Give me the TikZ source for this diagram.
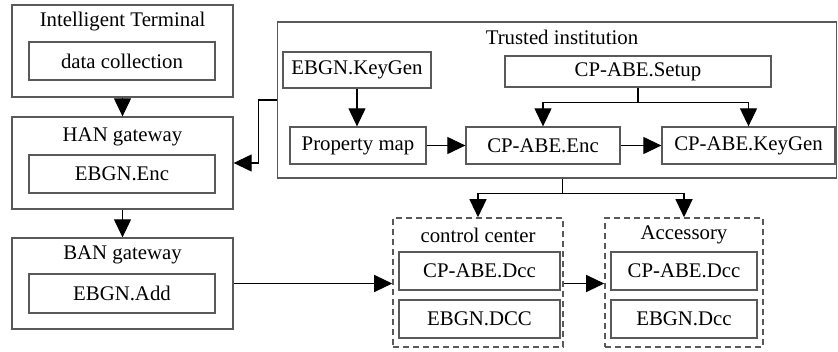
\documentclass[tikz,border=0pt]{standalone}
\usepackage{fontspec}
\setmainfont{Liberation Serif}
\usetikzlibrary{arrows.meta,positioning,calc}
\definecolor{boxgray}{rgb}{0.35,0.35,0.35}
\tikzset{>={Triangle[length=9pt,width=8.5pt]},
  every node/.style={font=\fontsize{10.4}{12}\selectfont},
  outer_box/.style={draw=boxgray,line width=0.65pt,inner sep=0pt},
  inner_box/.style={draw=boxgray,line width=0.65pt,inner sep=0pt},
  group_box/.style={draw=boxgray,line width=0.8pt,dash pattern=on 3pt off 2pt,inner sep=0pt},
  link/.style={->,line width=0.6pt,black}
}

\begin{document}
\begin{tikzpicture}[x=0.5pt,y=-0.5pt]
  \useasboundingbox (0,0) rectangle (838,352);
  % left column
  \begin{scope}
    \node[outer_box,minimum width=110.5pt,minimum height=46pt] (term) at (122.5,51) {};
    \node (termT) at (122.5,22) {Intelligent Terminal};
    \node[inner_box,minimum width=93pt,minimum height=19pt] (dcol) at (122,61) {data collection};
    \node[outer_box,minimum width=110.5pt,minimum height=46pt] (han) at (122.5,163) {};
    \node (hanT) at (122.5,137) {HAN gateway};
    \node[inner_box,minimum width=93pt,minimum height=19pt] (henc) at (122,174) {EBGN.Enc};
    \node[outer_box,minimum width=110.5pt,minimum height=45.5pt] (ban) at (122.5,283.5) {};
    \node (banT) at (122.5,255) {BAN gateway};
    \node[inner_box,minimum width=93pt,minimum height=19.5pt] (badd) at (122,293.5) {EBGN.Add};
  \end{scope}
  % trusted institution
  \begin{scope}
    \node[outer_box,minimum width=279.5pt,minimum height=78pt] (trust) at (557.25,100) {};
    \node (trustT) at (562,37) {Trusted institution};
    \node[inner_box,minimum width=74pt,minimum height=18pt] (ekg) at (357,70) {EBGN.KeyGen};
    \node[inner_box,minimum width=68pt,minimum height=18.5pt] (pmap) at (358,145.5) {Property map};
    \node[inner_box,minimum width=77pt,minimum height=18.5pt] (cenc) at (543,145.5) {CP-ABE.Enc};
    \node[inner_box,minimum width=86.5pt,minimum height=18.5pt] (ckg) at (748.5,145.5) {CP-ABE.KeyGen};
    \node[inner_box,minimum width=133pt,minimum height=15.5pt] (setup) at (638,71.5) {CP-ABE.Setup};
  \end{scope}
  % decryption side
  \begin{scope}
    \node[group_box,minimum width=85pt,minimum height=64.5pt] (cc) at (478,282.5) {};
    \node (ccT) at (478,235) {control center};
    \node[inner_box,minimum width=80.5pt,minimum height=19pt] (ccd) at (479.5,271) {CP-ABE.Dcc};
    \node[inner_box,minimum width=80.5pt,minimum height=19pt] (cce) at (479.5,319) {EBGN.DCC};
    \node[group_box,minimum width=79pt,minimum height=64.5pt] (acc) at (684,282.5) {};
    \node (accT) at (684,235) {Accessory};
    \node[inner_box,minimum width=73pt,minimum height=19pt] (accd) at (684,271) {CP-ABE.Dcc};
    \node[inner_box,minimum width=73pt,minimum height=19pt] (acce) at (684,319) {EBGN.Dcc};
  \end{scope}
  % connectors
  \draw[link] (term) -- (han);
  \draw[link] (han) -- (ban);
  \draw[link] (ekg.south) -- (ekg.south |- pmap.north);
  \draw[link] (pmap) -- (cenc);
  \draw[link] (cenc) -- (ckg);
  \draw[link] (setup.south) -- ++(0,15) -| (cenc.north);
  \draw[link] (setup.south) -- ++(0,15) -| (ckg.north);
  \draw[link] (trust.west) -- ++(-19,0) |- (han.east);
  \coordinate (tsplit) at ($(trust.south)+(5,0)$);
  \draw[link] (tsplit) -- ++(0,15) -| (cc.north);
  \draw[link] (tsplit) -- ++(0,15) -| (acc.north);
  \draw[link] (ban.east) -- (ban.east -| cc.west);
  \draw[link] (cc.east |- ban.east) -- (acc.west |- ban.east);
\end{tikzpicture}
\end{document}
